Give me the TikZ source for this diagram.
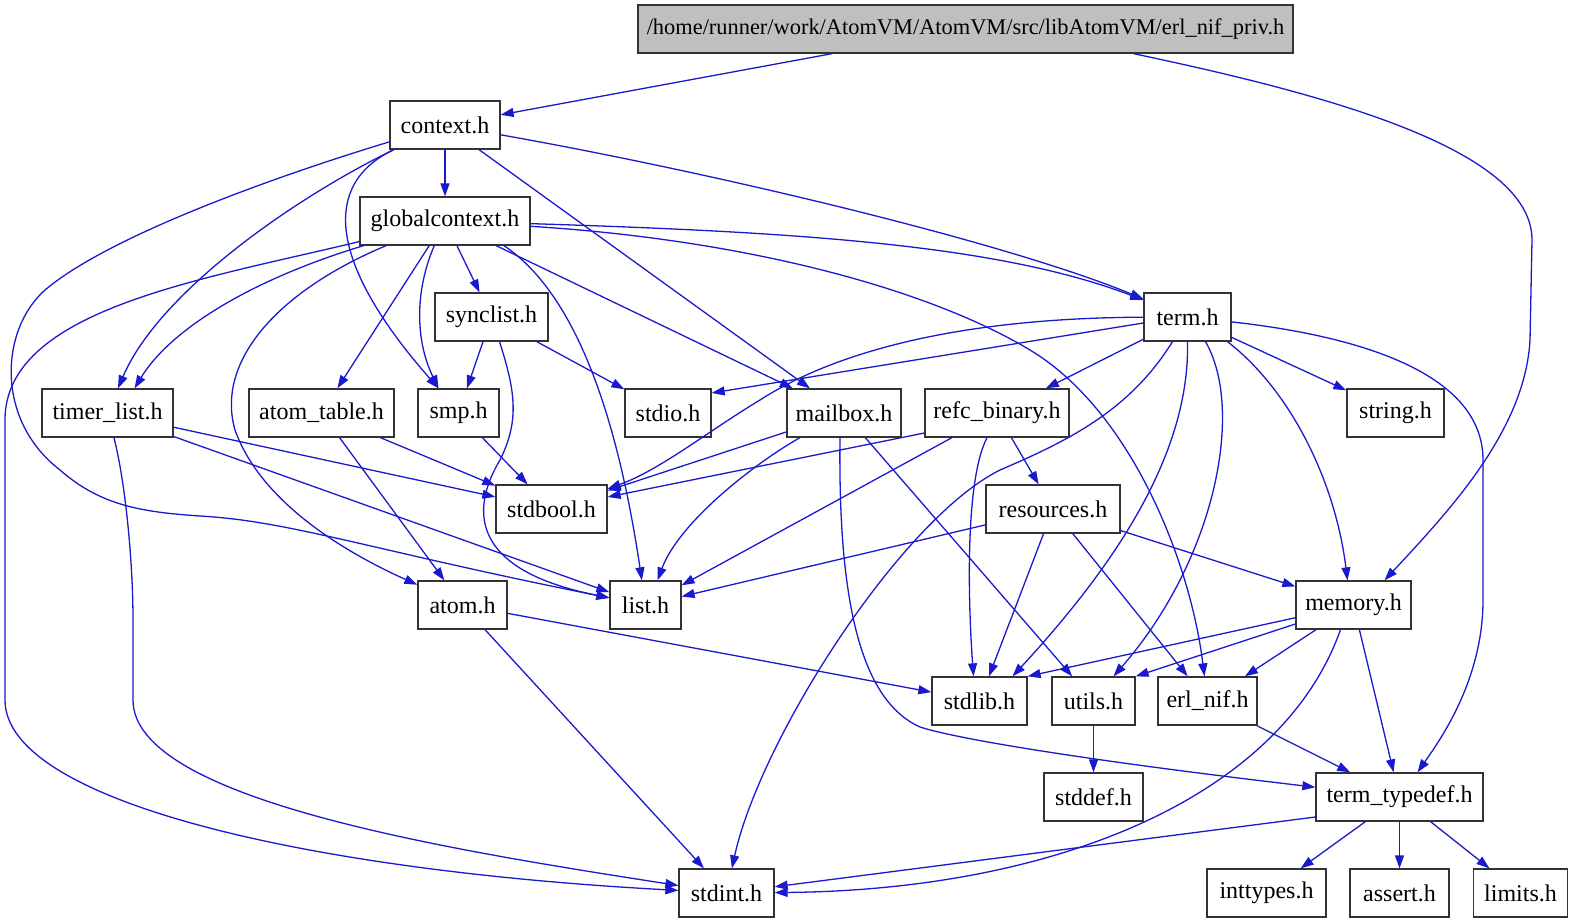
\documentclass[tikz,border=0pt]{standalone}
\usepackage{fontspec}
\setmainfont{Liberation Serif}
\usetikzlibrary{shapes, arrows.meta, positioning}

\definecolor{edgeblue}{RGB}{25,25,205}

\begin{document}
\begin{tikzpicture}[
    x = 1pt, y = -1pt,
    hdr/.style = {draw=black!80, line width=1.3pt, rectangle, minimum height=48pt, inner sep=0pt, align=center, fill=white, font=\fontsize{24}{28}\selectfont},
    mainhdr/.style = {hdr, fill=black!25, font=\fontsize{22.4}{26}\selectfont},
    line/.style = {-{Triangle[length=13pt, width=9pt]}, line width=1.3pt, edgeblue}
]
    \useasboundingbox (0,0) rectangle (1574,923);

    % Nodes
    \node [mainhdr, minimum width=655pt] (priv) at (965.5,29) {/home/runner/work/AtomVM/AtomVM/src/libAtomVM/erl\_nif\_priv.h};
    \node [hdr, minimum width=110pt] (context) at (445,125) {context.h};
    \node [hdr, minimum width=170pt] (globalctx) at (445,221) {globalcontext.h};
    \node [hdr, minimum width=113pt] (synclist) at (491.5,317) {synclist.h};
    \node [hdr, minimum width=87pt] (term) at (1187.5,317) {term.h};
    \node [hdr, minimum width=131pt] (timerlist) at (107.5,413) {timer\_list.h};
    \node [hdr, minimum width=145pt] (atomtable) at (321.5,413) {atom\_table.h};
    \node [hdr, minimum width=81pt] (smp) at (458.5,413) {smp.h};
    \node [hdr, minimum width=86pt] (stdio) at (668,413) {stdio.h};
    \node [hdr, minimum width=114pt] (mailbox) at (844,413) {mailbox.h};
    \node [hdr, minimum width=144pt] (refc) at (997,413) {refc\_binary.h};
    \node [hdr, minimum width=97pt] (string) at (1395.5,413) {string.h};
    \node [hdr, minimum width=111pt] (stdbool) at (551.5,509) {stdbool.h};
    \node [hdr, minimum width=134pt] (resources) at (1053,509) {resources.h};
    \node [hdr, minimum width=89pt] (atom) at (462.5,605) {atom.h};
    \node [hdr, minimum width=71pt] (list) at (645.5,605) {list.h};
    \node [hdr, minimum width=115pt] (memory) at (1353.5,605) {memory.h};
    \node [hdr, minimum width=95pt] (stdlib) at (979.5,701) {stdlib.h};
    \node [hdr, minimum width=83pt] (utils) at (1093.5,701) {utils.h};
    \node [hdr, minimum width=99pt] (erlnif) at (1207.5,701) {erl\_nif.h};
    \node [hdr, minimum width=99pt] (stddef) at (1093.5,797) {stddef.h};
    \node [hdr, minimum width=167pt] (termtypedef) at (1399.5,797) {term\_typedef.h};
    \node [hdr, minimum width=95pt] (stdint) at (726.5,893) {stdint.h};
    \node [hdr, minimum width=119pt] (inttypes) at (1266.5,893) {inttypes.h};
    \node [hdr, minimum width=99pt] (assert) at (1399.5,893) {assert.h};
    \node [hdr, minimum width=94pt] (limits) at (1520.5,893) {limits.h};

    % Edges from erl_nif_priv.h
    \draw [line] (priv) -- (context);
    \draw [line] ([xshift=168pt]priv.south) .. controls (1330,95) and (1532,150) .. (1532,240) -- (1530,340) .. controls (1525,430) and (1450,510) .. ([xshift=31pt]memory.north);

    % Edges from context.h
    \draw [line] (context) -- (globalctx);
    \draw [line] (context) .. controls (700,170) and (1000,240) .. (term);
    \draw [line] (context) -- (mailbox);
    \draw [line] (context) .. controls (320,185) and (330,265) .. ([xshift=-20pt]smp.north);
    \draw [line] (context) .. controls (300,195) and (160,290) .. (timerlist);
    \draw [line] (context) .. controls (280,175) and (110,235) .. (45,290) .. controls (0,330) and (-5,420) .. (60,470) .. controls (100,505) and (140,512) .. (200,516) .. controls (290,521) and (370,550) .. (list);

    % Edges from globalcontext.h
    \draw [line] (globalctx) -- (synclist);
    \draw [line] (globalctx) .. controls (800,232) and (1000,245) .. (term);
    \draw [line] (globalctx) .. controls (750,240) and (930,290) .. (1030,350) .. controls (1130,410) and (1190,560) .. (erlnif);
    \draw [line] (globalctx) -- (mailbox);
    \draw [line] ([xshift=59pt]globalctx.south) .. controls (570,290) and (615,400) .. (list);
    \draw [line] (globalctx) .. controls (415,290) and (415,340) .. ([xshift=-20pt]smp.north);
    \draw [line] (globalctx) -- (atomtable);
    \draw [line] (globalctx) .. controls (280,290) and (215,360) .. (235,430) .. controls (260,500) and (340,550) .. (atom);
    \draw [line] (globalctx) .. controls (250,280) and (170,330) .. ([xshift=27pt]timerlist.north);
    \draw [line] (globalctx) .. controls (200,280) and (5,310) .. (5,420) -- (5,700) .. controls (5,800) and (300,870) .. (stdint);

    % Edges from term.h
    \draw [line] ([yshift=-6pt]term.west) -- ([yshift=20pt]stdio.east);
    \draw [line] (term) .. controls (950,318) and (830,355) .. (760,400) .. controls (710,430) and (660,470) .. (stdbool);
    \draw [line] (term) -- (refc);
    \draw [line] ([xshift=-15pt]term.south) .. controls (1130,410) and (1070,440) .. (1000,470) .. controls (900,520) and (760,740) .. (stdint);
    \draw [line] (term.south) .. controls (1190,450) and (1120,560) .. ([xshift=33pt]stdlib.north);
    \draw [line] ([xshift=18pt]term.south) .. controls (1245,410) and (1215,560) .. ([xshift=20pt]utils.north);
    \draw [line] ([xshift=40pt]term.south) .. controls (1290,390) and (1335,480) .. ([xshift=-6pt]memory.north);
    \draw [line] (term) -- (string);
    \draw [line] (term) .. controls (1350,335) and (1483,370) .. (1483,460) -- (1483,600) .. controls (1483,680) and (1440,740) .. ([xshift=18pt]termtypedef.north);

    % Edges from the middle rows
    \draw [line] (synclist) -- (smp);
    \draw [line] (synclist) -- (stdio);
    \draw [line] ([xshift=8pt]synclist.south) .. controls (515,390) and (520,420) .. (500,460) .. controls (470,510) and (470,570) .. (list);
    \draw [line] (timerlist) -- (stdbool);
    \draw [line] (timerlist) -- (list);
    \draw [line] (timerlist) .. controls (125,480) and (133,560) .. (133,620) -- (133,700) .. controls (133,800) and (450,850) .. (stdint);
    \draw [line] (atomtable) -- (atom);
    \draw [line] (atomtable) -- (stdbool);
    \draw [line] (smp) -- (stdbool);
    \draw [line] (mailbox) -- (stdbool);
    \draw [line] (mailbox) .. controls (760,460) and (680,520) .. ([xshift=12pt]list.north);
    \draw [line] (mailbox) -- (utils);
    \draw [line] ([xshift=-4pt]mailbox.south) .. controls (838,600) and (860,700) .. (920,727) .. controls (960,740) and (1100,762) .. (termtypedef);
    \draw [line] ([yshift=-20pt]refc.west) -- ([yshift=12pt]stdbool.east);
    \draw [line] (refc) -- (list);
    \draw [line] (refc) -- (resources);
    \draw [line] ([xshift=-10pt]refc.south) .. controls (965,480) and (968,600) .. ([xshift=-6pt]stdlib.north);
    \draw [line] (resources) -- (list);
    \draw [line] (resources) -- (stdlib);
    \draw [line] (resources) -- (erlnif);
    \draw [line] (resources) -- (memory);
    \draw [line] (atom) -- (stdlib);
    \draw [line] (atom) -- (stdint);

    % Edges from the lower rows
    \draw [line] (memory) -- (stdlib.north east);
    \draw [line] (memory) -- (utils.north east);
    \draw [line] (memory) -- (erlnif);
    \draw [line] (memory) -- (termtypedef);
    \draw [line] ([xshift=-13pt]memory.south) .. controls (1280,800) and (1050,890) .. (stdint);
    \draw [line] (erlnif) -- (termtypedef);
    \draw [line] (utils) -- (stddef);
    \draw [line] ([yshift=-20pt]termtypedef.west) -- (stdint);
    \draw [line] (termtypedef) -- (inttypes);
    \draw [line] (termtypedef) -- (assert);
    \draw [line] (termtypedef) -- (limits);

\end{tikzpicture}
\end{document}
